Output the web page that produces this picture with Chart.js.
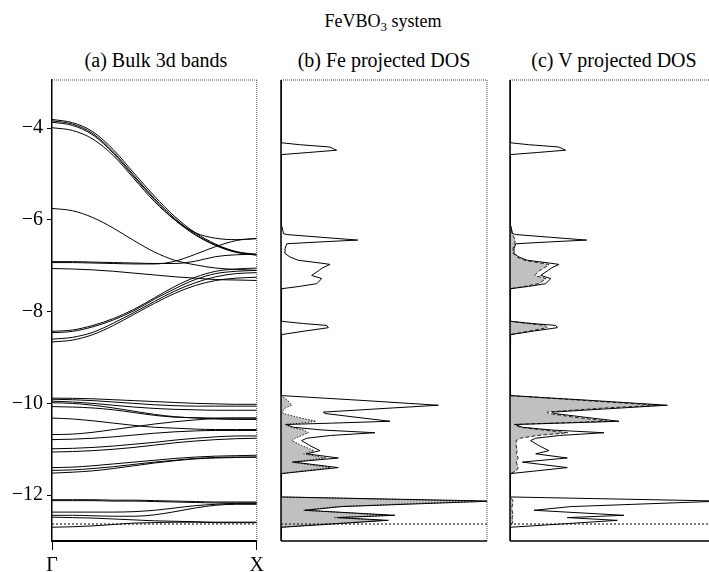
<!DOCTYPE html>
<html>
<head>
<meta charset="utf-8">
<script src="https://cdn.jsdelivr.net/npm/chart.js@4/dist/chart.umd.min.js"></script>
<style>
  html, body { margin: 0; padding: 0; background: #fff; }
  #fig { position: relative; width: 709px; height: 572px; overflow: hidden;
         font-family: "Liberation Serif", "Times New Roman", serif; color: #000; }
  #fig canvas { position: absolute; top: 0; }
  .ttl { position: absolute; white-space: nowrap; transform: translateX(-50%);
         font-size: 20px; line-height: 20px; }
  .ttl.main { font-size: 18px; }
  .ttl sub { font-size: 13px; line-height: 0; vertical-align: -4px; }
</style>
</head>
<body>
<div id="fig">
  <div class="ttl main" style="left:383px; top:11px">FeVBO<sub>3</sub> system</div>
  <div class="ttl" style="left:156px; top:50px">(a) Bulk 3d bands</div>
  <div class="ttl" style="left:384px; top:50px">(b) Fe projected DOS</div>
  <div class="ttl" style="left:614px; top:50px">(c) V projected DOS</div>
  <canvas id="bands" width="268" height="572" style="left:0px"></canvas>
  <canvas id="dosFe" width="232" height="572" style="left:268px"></canvas>
  <canvas id="dosV" width="240" height="572" style="left:500px"></canvas>
</div>
<script>
// ---- band structure along Γ → X (energies in eV) ----
const kPoints = [0, 0.1, 0.2, 0.3, 0.4, 0.5, 0.6, 0.7, 0.8, 0.9, 1];
const kLabels = ['Γ', 'X'];
const energyTicks = [-12, -10, -8, -6, -4];
const energyMin = -13;
const energyMax = -2.95;
const fermiLevel = -12.63;

const bandsUpper = [
  [-3.81, -3.88, -4.08, -4.47, -4.98, -5.48, -5.93, -6.28, -6.53, -6.69, -6.75],
  [-3.84, -3.91, -4.12, -4.52, -5.03, -5.53, -5.97, -6.31, -6.55, -6.70, -6.76],
  [-3.87, -3.94, -4.15, -4.55, -5.06, -5.56, -6.00, -6.33, -6.56, -6.71, -6.77],
  [-3.99, -4.05, -4.24, -4.60, -5.10, -5.60, -6.00, -6.28, -6.40, -6.43, -6.41]
];
const bandsMiddle = [
  [-5.75, -5.80, -5.95, -6.18, -6.45, -6.70, -6.88, -6.98, -7.05, -7.08, -7.10],
  [-6.91, -6.91, -6.92, -6.93, -6.94, -6.95, -6.95, -6.90, -6.80, -6.76, -6.75],
  [-6.93, -6.93, -6.94, -6.95, -6.96, -6.96, -6.90, -6.75, -6.58, -6.45, -6.40],
  [-7.06, -7.07, -7.09, -7.12, -7.16, -7.20, -7.24, -7.27, -7.30, -7.31, -7.32]
];
const bandsLower = [
  [-8.43, -8.40, -8.30, -8.15, -7.95, -7.70, -7.45, -7.25, -7.12, -7.07, -7.05],
  [-8.46, -8.43, -8.33, -8.18, -7.98, -7.73, -7.50, -7.30, -7.17, -7.12, -7.10],
  [-8.60, -8.56, -8.45, -8.25, -8.02, -7.78, -7.55, -7.37, -7.24, -7.17, -7.15],
  [-8.66, -8.62, -8.50, -8.30, -8.06, -7.82, -7.60, -7.43, -7.32, -7.27, -7.25]
];
const bandsDeep = [
  [-9.885, -9.89, -9.90, -9.92, -9.94, -9.96, -9.98, -10.00, -10.01, -10.02, -10.02],
  [-9.91, -9.92, -9.94, -9.97, -10.00, -10.03, -10.05, -10.06, -10.06, -10.06, -10.06],
  [-9.95, -9.97, -10.00, -10.04, -10.08, -10.11, -10.13, -10.14, -10.15, -10.15, -10.15],
  [-9.985, -10.00, -10.04, -10.10, -10.17, -10.24, -10.29, -10.32, -10.34, -10.35, -10.35],
  [-10.07, -10.08, -10.10, -10.14, -10.20, -10.26, -10.30, -10.31, -10.32, -10.32, -10.32],
  [-10.32, -10.34, -10.38, -10.43, -10.48, -10.52, -10.54, -10.56, -10.57, -10.57, -10.57],
  [-10.68, -10.67, -10.63, -10.57, -10.51, -10.45, -10.40, -10.36, -10.33, -10.32, -10.32],
  [-10.79, -10.78, -10.76, -10.73, -10.69, -10.65, -10.62, -10.60, -10.59, -10.59, -10.59],
  [-10.99, -10.98, -10.96, -10.93, -10.89, -10.85, -10.80, -10.76, -10.73, -10.71, -10.71],
  [-11.06, -11.05, -11.03, -11.00, -10.96, -10.91, -10.86, -10.82, -10.79, -10.77, -10.76],
  [-11.40, -11.39, -11.36, -11.32, -11.28, -11.24, -11.20, -11.17, -11.15, -11.14, -11.13],
  [-11.46, -11.45, -11.42, -11.38, -11.33, -11.28, -11.24, -11.20, -11.18, -11.17, -11.17],
  [-11.52, -11.50, -11.47, -11.42, -11.36, -11.30, -11.25, -11.21, -11.19, -11.18, -11.17]
];
const bandsBottom = [
  [-12.10, -12.10, -12.10, -12.11, -12.11, -12.12, -12.13, -12.14, -12.15, -12.15, -12.15],
  [-12.12, -12.12, -12.12, -12.13, -12.13, -12.14, -12.15, -12.16, -12.17, -12.17, -12.17],
  [-12.37, -12.37, -12.37, -12.37, -12.36, -12.33, -12.28, -12.23, -12.20, -12.18, -12.18],
  [-12.44, -12.44, -12.45, -12.46, -12.46, -12.43, -12.36, -12.28, -12.22, -12.20, -12.20],
  [-12.48, -12.49, -12.50, -12.52, -12.54, -12.56, -12.57, -12.58, -12.59, -12.59, -12.59],
  [-12.70, -12.69, -12.67, -12.64, -12.61, -12.60, -12.59, -12.59, -12.60, -12.60, -12.60]
];

// ---- projected densities of states on a shared energy grid ----
const dosEnergy = [
  -2.95, -4.30, -4.32, -4.36, -4.41, -4.45, -4.48, -4.53, -4.575, -4.60,
  -6.12, -6.15, -6.30, -6.32, -6.38, -6.44, -6.48, -6.52, -6.62, -6.73,
  -6.81, -6.88, -6.94, -6.97, -7.05, -7.10, -7.21, -7.28, -7.39, -7.45,
  -7.50, -7.55, -8.19, -8.21, -8.26, -8.30, -8.35, -8.42, -8.50, -8.55,
  -9.80, -9.83, -9.93, -10.00, -10.04, -10.10, -10.15, -10.19, -10.22, -10.30,
  -10.39, -10.43, -10.46, -10.52, -10.58, -10.64, -10.70, -10.76, -10.81, -10.92,
  -11.03, -11.10, -11.19, -11.28, -11.40, -11.47, -11.53, -11.56, -12.02, -12.04,
  -12.13, -12.25, -12.33, -12.44, -12.49, -12.55, -12.62, -12.70, -12.73, -13.00
];
const dosTotal = [
  0, 0, 0.05, 0.9, 2.35, 2.55, 2.70, 1.35, 0.05, 0,
  0, 0.05, 0.12, 0.3, 2.0, 3.72, 1.9, 0.28, 0.2, 0.19,
  0.44, 0.84, 1.9, 2.38, 2.0, 1.85, 1.49, 1.98, 1.73, 0.9,
  0.03, 0, 0, 0.03, 1.1, 2.22, 2.30, 1.2, 0.03, 0,
  0, 0.03, 3.75, 6.2, 7.64, 5.4, 3.54, 2.05, 2.14, 3.6,
  5.29, 2.5, 0.25, 0.6, 2.0, 4.56, 2.4, 1.25, 1.0, 1.4,
  1.89, 1.25, 2.78, 0.6, 2.78, 1.3, 0.03, 0, 0, 0.03,
  10.3, 2.95, 1.17, 5.53, 2.78, 5.21, 2.8, 0.03, 0, 0
];
const dosFe = [
  0, 0, 0, 0, 0, 0, 0, 0, 0, 0,
  0, 0, 0, 0, 0, 0, 0, 0, 0, 0,
  0, 0, 0, 0, 0, 0, 0, 0, 0, 0,
  0, 0, 0, 0, 0, 0, 0, 0, 0, 0,
  0, 0.02, 0.3, 0.45, 0.52, 0.2, 0.12, 0.08, 0.1, 0.8,
  1.7, 1.0, 0.2, 0.5, 1.1, 1.33, 1.0, 0.7, 0.52, 1.0,
  1.6, 1.1, 2.2, 0.5, 2.4, 1.1, 0.02, 0, 0, 0.03,
  9.5, 2.7, 1.1, 5.2, 2.6, 4.9, 2.6, 0.03, 0, 0
];
const dosV = [
  0, 0, 0, 0, 0, 0, 0, 0, 0, 0,
  0, 0.05, 0.1, 0.12, 0.2, 0.25, 0.25, 0.22, 0.15, 0.15,
  0.35, 0.7, 1.5, 1.9, 1.65, 1.45, 1.2, 1.75, 1.4, 0.7,
  0.02, 0, 0, 0.03, 0.9, 1.7, 1.8, 1.0, 0.02, 0,
  0, 0.03, 3.4, 5.8, 7.2, 4.6, 3.0, 1.8, 1.9, 3.1,
  4.8, 2.0, 0.2, 0.5, 1.6, 2.8, 1.3, 0.5, 0.3, 0.3,
  0.35, 0.3, 0.4, 0.3, 0.4, 0.3, 0.02, 0, 0, 0.03,
  0.15, 0.1, 0.1, 0.15, 0.1, 0.15, 0.1, 0.03, 0, 0
];
const dosMax = 10;

const serif = 'Liberation Serif, Times New Roman, serif';

// draws the individual edges of the plotting box
const panelFrame = {
  id: 'panelFrame',
  afterDatasetsDraw(chart, args, opts) {
    const { ctx, chartArea: a } = chart;
    const edge = (x1, y1, x2, y2, st) => {
      if (!st) return;
      ctx.save();
      ctx.beginPath();
      ctx.lineWidth = st.width;
      ctx.strokeStyle = st.color;
      ctx.setLineDash(st.dash || []);
      ctx.moveTo(x1, y1);
      ctx.lineTo(x2, y2);
      ctx.stroke();
      ctx.restore();
    };
    edge(a.left, a.top, a.right, a.top, opts.top);
    edge(a.right, a.top, a.right, a.bottom, opts.right);
    edge(a.left, a.bottom, a.right, a.bottom, opts.bottom);
    edge(a.left, a.top, a.left, a.bottom, opts.left);
  }
};

const fermiLine = (xMax) => ({
  data: [{ x: 0, y: fermiLevel }, { x: xMax, y: fermiLevel }],
  borderColor: '#000', borderWidth: 1, borderDash: [2, 2],
  pointRadius: 0, fill: false, order: 0
});

// ---- (a) band structure ----
const allBands = [...bandsUpper, ...bandsMiddle, ...bandsLower, ...bandsDeep, ...bandsBottom];
new Chart(document.getElementById('bands'), {
  type: 'line',
  data: {
    datasets: [
      ...allBands.map(b => ({
        data: b.map((e, i) => ({ x: kPoints[i], y: e })),
        borderColor: '#000', borderWidth: 1, pointRadius: 0, fill: false,
        cubicInterpolationMode: 'monotone', order: 1
      })),
      fermiLine(1)
    ]
  },
  options: {
    responsive: false, animation: false, devicePixelRatio: 1,
    layout: { padding: { left: 0, right: 10, top: 80, bottom: 0 } },
    plugins: {
      legend: { display: false }, tooltip: { enabled: false },
      panelFrame: {
        top: { width: 1, color: '#555', dash: [1, 1] },
        right: { width: 1, color: '#444', dash: [1, 1] }
      }
    },
    scales: {
      x: {
        type: 'linear', min: 0, max: 1,
        afterBuildTicks: s => { s.ticks = [{ value: 0 }, { value: 1 }]; },
        afterFit: s => { s.height = 31; },
        ticks: {
          autoSkip: false, maxRotation: 0, padding: 4, color: '#000',
          font: { family: serif, size: 20 },
          callback: v => (v === 0 ? kLabels[0] : kLabels[1])
        },
        grid: { drawOnChartArea: false, drawTicks: true, tickLength: 9, color: '#000', tickWidth: 1 },
        border: { display: true, color: '#000', width: 2 }
      },
      y: {
        type: 'linear', min: energyMin, max: energyMax,
        afterBuildTicks: s => { s.ticks = energyTicks.map(v => ({ value: v })); },
        afterFit: s => { s.width = 52; },
        ticks: {
          padding: 4, color: '#000',
          font: { family: serif, size: 20 },
          callback: v => '\u2212' + Math.abs(v)
        },
        grid: { drawOnChartArea: false, drawTicks: true, tickLength: 5, color: '#000', tickWidth: 1 },
        border: { display: true, color: '#000', width: 1.5 }
      }
    }
  },
  plugins: [panelFrame]
});

// ---- (b), (c) projected DOS, drawn vertically against energy ----
function dosPanel(canvasId, projected, outlineDash, pad) {
  const pts = arr => arr.map((v, i) => ({ x: v, y: dosEnergy[i] }));
  return new Chart(document.getElementById(canvasId), {
    type: 'line',
    data: {
      datasets: [
        {
          data: pts(projected), fill: 'origin', backgroundColor: '#c0c0c0',
          borderColor: '#222', borderWidth: 1, borderDash: outlineDash,
          pointRadius: 0, tension: 0, order: 2
        },
        {
          data: pts(dosTotal), fill: false, borderColor: '#000', borderWidth: 1,
          pointRadius: 0, tension: 0, order: 1
        },
        fermiLine(dosMax)
      ]
    },
    options: {
      indexAxis: 'y',
      responsive: false, animation: false, devicePixelRatio: 1,
      layout: { padding: { left: pad.left, right: pad.right, top: 80, bottom: 31 } },
      plugins: {
        legend: { display: false }, tooltip: { enabled: false },
        panelFrame: {
          top: { width: 1, color: '#444', dash: [1, 1] },
          right: { width: 1, color: '#444', dash: [1, 1] },
          bottom: { width: 1.5, color: '#000' },
          left: { width: 1.5, color: '#000' }
        }
      },
      scales: {
        x: { type: 'linear', min: 0, max: dosMax, display: false },
        y: { type: 'linear', min: energyMin, max: energyMax, display: false }
      }
    },
    plugins: [panelFrame]
  });
}

dosPanel('dosFe', dosFe, [1.5, 1.5], { left: 13, right: 13 });
dosPanel('dosV', dosV, [4, 2], { left: 10, right: 24 });
</script>
</body>
</html>
